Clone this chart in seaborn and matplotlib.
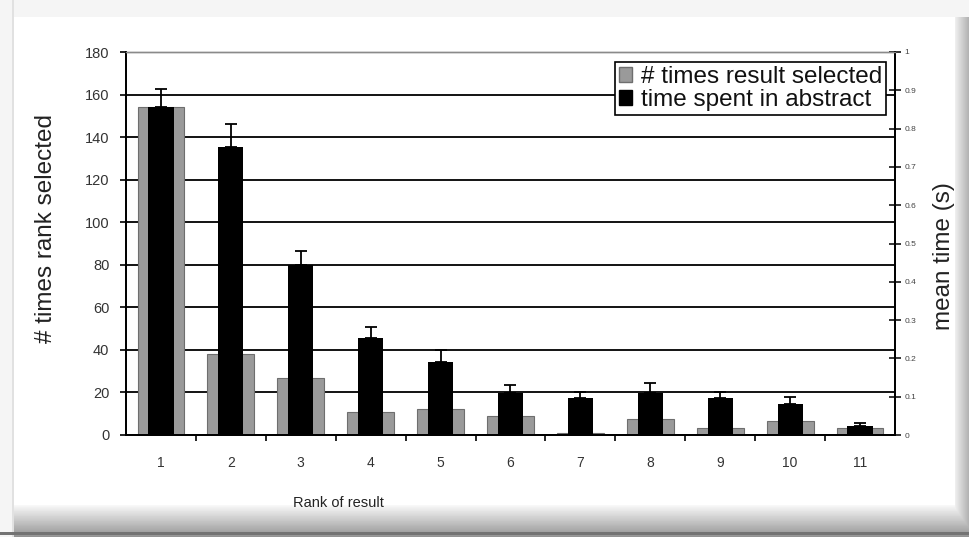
import numpy as np
import matplotlib
matplotlib.use('Agg')
import matplotlib.pyplot as plt
from matplotlib.patches import Patch
from matplotlib.ticker import FixedLocator, FuncFormatter
import seaborn as sns

# data
ranks = ['1', '2', '3', '4', '5', '6', '7', '8', '9', '10', '11']
times_selected = [154, 38, 27, 11, 12, 9, 1, 7.5, 3.5, 6.5, 3.5]
mean_time = [0.857, 0.753, 0.443, 0.252, 0.19, 0.11, 0.096, 0.11, 0.096, 0.08, 0.024]
time_err_up = [0.046, 0.06, 0.037, 0.029, 0.032, 0.021, 0.015, 0.025, 0.015, 0.019, 0.007]

sel_label = '# times result selected'
time_label = 'time spent in abstract'

sns.set_theme(style='white')
plt.rcParams['font.family'] = ['Liberation Sans', 'DejaVu Sans']

W, H = 969, 537
fig = plt.figure(figsize=(W / 100, H / 100), dpi=100)

# screenshot-style frame with a soft shadow
bg = np.full((H, W), 0.96)
bg[17:505, 14:955] = 1.0
bg[:, 12:14] = 0.88
band = np.linspace(0.97, 0.58, 32)
bg[505:537, 14:] = band[:, None]
side = np.linspace(0.93, 0.7, 14)
bg[17:537, 955:969] = np.minimum(bg[17:537, 955:969], side[None, :])
bg[532:535, :] = 0.45
bg_ax = fig.add_axes([0, 0, 1, 1], zorder=-10)
bg_ax.imshow(bg, cmap='gray', vmin=0, vmax=1, aspect='auto', interpolation='bilinear')
bg_ax.axis('off')

ax = fig.add_axes([126 / W, 1 - 435 / H, (895 - 126) / W, (435 - 52) / H])
ax.patch.set_alpha(0)

sns.barplot(x=ranks, y=times_selected, color='#9a9a9a', saturation=1, width=0.67,
            edgecolor='#6e6e6e', linewidth=0.8, ax=ax)
ax.set_ylim(0, 180)
ax.set_xlim(-0.5, len(ranks) - 0.5)
ax.yaxis.set_major_locator(FixedLocator(np.arange(0, 181, 20)))
ax.grid(axis='y', color='black', linewidth=1.3)
ax.set_axisbelow(True)

ax2 = ax.twinx()
sns.barplot(x=ranks, y=mean_time, color='black', saturation=1, width=0.36,
            linewidth=0, ax=ax2)
xpos = np.arange(len(ranks))
ax2.errorbar(xpos, mean_time, yerr=[np.zeros(len(ranks)), time_err_up], fmt='none',
             ecolor='black', elinewidth=1.3, capsize=4.5, capthick=1.3)
ax2.set_ylim(0, 1)
ax2.set_xlim(-0.5, len(ranks) - 0.5)
ax2.yaxis.set_major_locator(FixedLocator(np.arange(0, 1.01, 0.1)))
ax2.yaxis.set_major_formatter(FuncFormatter(lambda v, p: f'{v:g}'))

# spines
for a in (ax, ax2):
    for s in ('left', 'right', 'bottom'):
        a.spines[s].set_color('black')
        a.spines[s].set_linewidth(1.3)
    a.spines['top'].set_color('#8a8a8a')
    a.spines['top'].set_linewidth(1.0)

# ticks
ax.tick_params(axis='y', which='major', direction='out', length=4, width=1.2,
               color='black', pad=8, labelsize=10.5, labelcolor='#333333', left=True)
ax.xaxis.set_minor_locator(FixedLocator(np.arange(0.5, len(ranks) - 1, 1)))
ax.tick_params(axis='x', which='major', length=0, pad=15, labelsize=10, labelcolor='#333333')
ax.tick_params(axis='x', which='minor', direction='out', length=4, width=1.2,
               color='black', bottom=True)
ax2.tick_params(axis='y', which='major', direction='inout', length=8, width=1.1,
                color='black', pad=3, labelsize=6, labelcolor='#444444', right=True)
ax2.tick_params(axis='x', length=0, labelbottom=False)

# labels
ax.set_xlabel('Rank of result', fontsize=10.5, color='#222222')
ax.xaxis.set_label_coords(0.276, -0.16)
ax.set_ylabel('# times rank selected', fontsize=17.5, color='#222222')
ax.yaxis.set_label_coords(-0.09, 0.54)
ax2.set_ylabel('mean time (s)', fontsize=17.5, color='#222222')
ax2.yaxis.set_label_coords(1.05, 0.467)

handles = [Patch(facecolor='#9a9a9a', edgecolor='#6e6e6e', label=sel_label),
           Patch(facecolor='black', edgecolor='black', label=time_label)]
leg = ax2.legend(handles=handles, loc='upper right', bbox_to_anchor=(0.988, 0.973),
                 borderaxespad=0, fontsize=17.5, frameon=True, fancybox=False,
                 edgecolor='black', framealpha=1, handlelength=0.55, handleheight=0.55,
                 handletextpad=0.35, labelspacing=0.05, borderpad=0.15)
leg.get_frame().set_linewidth(1.2)
for t in leg.get_texts():
    t.set_color('#111111')

fig.savefig('out.png', dpi=100)
